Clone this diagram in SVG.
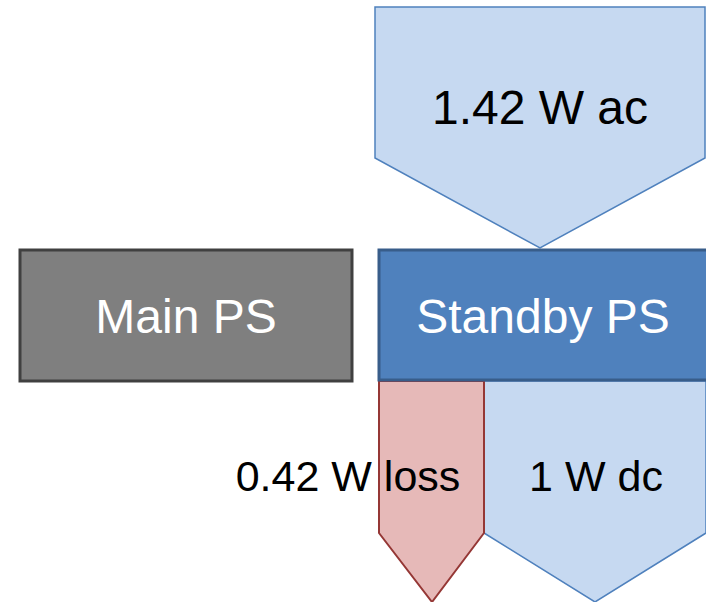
<svg xmlns="http://www.w3.org/2000/svg" width="706" height="602" viewBox="0 0 706 602">
<style>
.lbl{font-family:"Liberation Sans",Arial,sans-serif;text-anchor:middle}
.blue{fill:#c6d9f1;stroke:#4f81bd;stroke-width:1.5}
.loss{fill:#e6b9b8;stroke:#953735;stroke-width:2}
.box{stroke-width:3}
</style>
<rect width="706" height="602" fill="#fff"/>
<g id="connectors">
<g id="ac-in">
<polygon class="blue" points="375,7 705,7 705,158 540,248 375,158"/>
<text class="lbl" x="540" y="124" font-size="48" fill="#000">1.42 W ac</text>
</g>
<g id="dc-out">
<polygon class="blue" points="484,381 706,381 706,533 595,602 484,533"/>
<text class="lbl" x="596" y="491" font-size="43" fill="#000">1 W dc</text>
</g>
<g id="loss-out">
<polygon class="loss" points="379,381 484,381 484,533 432,602 379,533"/>
<text class="lbl" x="348" y="491" font-size="43" fill="#000">0.42 W loss</text>
</g>
</g>
<g id="main-ps">
<rect class="box" x="20" y="250" width="332" height="131" fill="#7f7f7f" stroke="#404040"/>
<text class="lbl" x="186" y="333" font-size="48" fill="#fff">Main PS</text>
</g>
<g id="standby-ps">
<rect class="box" x="379" y="250" width="330" height="130" fill="#4f81bd" stroke="#385d8a"/>
<text class="lbl" x="543" y="333" font-size="48" fill="#fff">Standby PS</text>
</g>
</svg>
